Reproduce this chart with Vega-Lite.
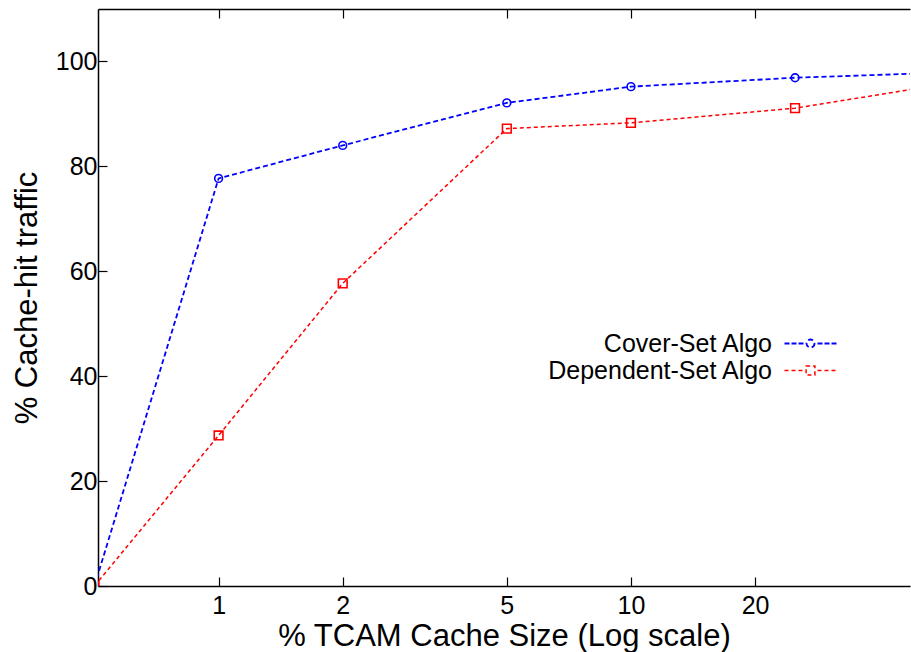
{
  "$schema": "https://vega.github.io/schema/vega-lite/v6.json",
  "width": 812,
  "height": 577,
  "autosize": "none",
  "padding": {"left": 98, "top": 9, "right": 1, "bottom": 66},
  "background": "white",
  "config": {
    "view": {"stroke": null},
    "font": "Liberation Sans",
    "axis": {
      "grid": false,
      "domainColor": "black",
      "domainWidth": 1.5,
      "tickColor": "black",
      "tickWidth": 1.2,
      "labelColor": "black",
      "titleColor": "black",
      "labelFont": "Liberation Sans",
      "titleFont": "Liberation Sans",
      "labelFontSize": 25,
      "titleFontSize": 31,
      "titleFontWeight": "normal"
    }
  },
  "data": {
    "values": [
      {"algo": "Cover-Set Algo", "size": 0.5, "hit": 0},
      {"algo": "Cover-Set Algo", "size": 1, "hit": 77.7},
      {"algo": "Cover-Set Algo", "size": 2, "hit": 84.0},
      {"algo": "Cover-Set Algo", "size": 5, "hit": 92.1},
      {"algo": "Cover-Set Algo", "size": 10, "hit": 95.2},
      {"algo": "Cover-Set Algo", "size": 25, "hit": 96.9},
      {"algo": "Cover-Set Algo", "size": 50, "hit": 97.7},
      {"algo": "Dependent-Set Algo", "size": 0.5, "hit": 0},
      {"algo": "Dependent-Set Algo", "size": 1, "hit": 28.7},
      {"algo": "Dependent-Set Algo", "size": 2, "hit": 57.7},
      {"algo": "Dependent-Set Algo", "size": 5, "hit": 87.2},
      {"algo": "Dependent-Set Algo", "size": 10, "hit": 88.3},
      {"algo": "Dependent-Set Algo", "size": 25, "hit": 91.1},
      {"algo": "Dependent-Set Algo", "size": 50, "hit": 94.9}
    ]
  },
  "layer": [
    {
      "mark": {"type": "line", "clip": true},
      "encoding": {
        "x": {
          "field": "size", "type": "quantitative",
          "scale": {"type": "log", "domain": [0.51, 47.5], "nice": false},
          "axis": {
            "orient": "bottom", "values": [1, 2, 5, 10, 20], "format": "d",
            "tickSize": -9, "labelPadding": 16, "labelFlush": false, "labelOverlap": false,
            "title": "% TCAM Cache Size (Log scale)", "titleY": 59, "titleBaseline": "alphabetic"
          }
        },
        "y": {
          "field": "hit", "type": "quantitative",
          "scale": {"domain": [0, 110], "nice": false},
          "axis": {
            "orient": "left", "values": [0, 20, 40, 60, 80, 100],
            "tickSize": -9, "labelPadding": 10,
            "title": "% Cache-hit traffic", "titleX": -71, "titleBaseline": "middle"
          }
        },
        "color": {
          "field": "algo", "type": "nominal",
          "scale": {"domain": ["Cover-Set Algo", "Dependent-Set Algo"], "range": ["#0000ff", "#ff0000"]},
          "legend": {
            "orient": "none", "legendX": 700, "legendY": 322, "title": null, "padding": 0,
            "labelFont": "Liberation Sans", "labelFontSize": 25, "labelColor": "black",
            "labelAlign": "right", "labelOffset": -51, "labelLimit": 400,
            "symbolSize": 64, "symbolStrokeWidth": 1.5, "rowPadding": 1, "symbolDash": [1, 0],
            "encode": {
              "symbols": {
                "update": {
                  "shape": {"signal": "datum.value === 'Cover-Set Algo' ? 'M-6.5,0H-5.25M-4.75,0H-3.5M-3,0H-1.75M1.75,0H3M3.5,0H4.75M5.25,0H6.5M1,0A1,1,0,1,1,-1,0A1,1,0,1,1,1,0Z' : 'M-6.5,0H-5.25M-4.75,0H-3.5M-3,0H-1.75M1.75,0H3M3.5,0H4.75M5.25,0H6.5M-1.1,-1.1H1.1V1.1H-1.1Z'"},
                  "strokeDash": {"value": [1, 0]},
                  "fill": {"value": "transparent"}
                }
              }
            }
          }
        },
        "strokeDash": {
          "field": "algo", "type": "nominal",
          "scale": {"domain": ["Cover-Set Algo", "Dependent-Set Algo"], "range": [[5, 3], [4, 3]]},
          "legend": null
        },
        "strokeWidth": {
          "field": "algo", "type": "nominal",
          "scale": {"domain": ["Cover-Set Algo", "Dependent-Set Algo"], "range": [1.8, 1.5]},
          "legend": null
        }
      }
    },
    {
      "transform": [{"filter": "datum.algo === 'Cover-Set Algo'"}],
      "mark": {"type": "point", "clip": true, "filled": false, "strokeWidth": 1.6, "opacity": 1, "shape": "circle", "size": 60, "color": "#0000ff"},
      "encoding": {
        "x": {
          "field": "size", "type": "quantitative",
          "axis": {"orient": "top", "values": [1, 2, 5, 10, 20], "tickSize": -9, "labels": false, "title": null}
        },
        "y": {"field": "hit", "type": "quantitative", "axis": null}
      }
    },
    {
      "transform": [{"filter": "datum.algo === 'Dependent-Set Algo'"}],
      "mark": {"type": "point", "clip": true, "filled": false, "strokeWidth": 1.6, "opacity": 1, "shape": "square", "size": 76, "color": "#ff0000"},
      "encoding": {
        "x": {"field": "size", "type": "quantitative", "axis": null},
        "y": {"field": "hit", "type": "quantitative", "axis": null}
      }
    }
  ],
  "resolve": {"axis": {"x": "independent", "y": "independent"}}
}
